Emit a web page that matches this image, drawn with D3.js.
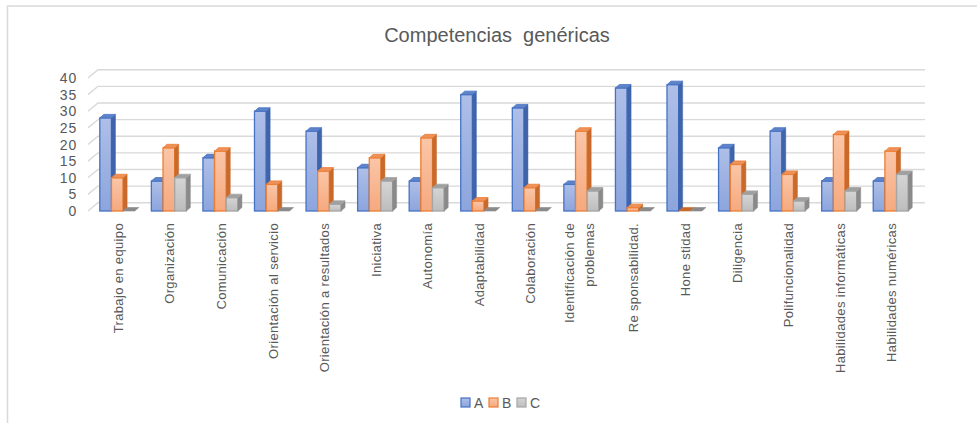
<!DOCTYPE html>
<html>
<head>
<meta charset="utf-8">
<script src="https://cdn.jsdelivr.net/npm/d3@7"></script>
<style>
  html, body { margin: 0; padding: 0; background: #fff; }
  svg { display: block; }
  text { font-family: "Liberation Sans", Arial, sans-serif; fill: #595959; }
</style>
</head>
<body>
<svg id="chart" width="977" height="423"></svg>
<script>
const title = "Competencias  genéricas";
const categories = [
  "Trabajo en equipo", "Organización", "Comunicación", "Orientación al servicio",
  "Orientación a resultados", "Iniciativa", "Autonomía", "Adaptabilidad",
  "Colaboración", "Identificación de\nproblemas", "Re sponsabilidad.", "Hone stidad",
  "Diligencia", "Polifuncionalidad", "Habilidades informáticas", "Habilidades numéricas"
];
const seriesNames = ["A", "B", "C"];
const valuesA = [28, 9, 16, 30, 24, 13, 9, 35, 31, 8, 37, 38, 19, 24, 9, 9];
const valuesB = [10, 19, 18, 8, 12, 16, 22, 3, 7, 24, 1, 0, 14, 11, 23, 18];
const valuesC = [0, 10, 4, 0, 2, 9, 7, 0, 0, 6, 0, 0, 5, 3, 6, 11];
const yTicks = [0, 5, 10, 15, 20, 25, 30, 35, 40];

const series = [valuesA, valuesB, valuesC];
const palette = [
  { light: "#aebfe8", dark: "#8ca5dd", stroke: "#4472c4", side: "#3f64ab", top: "#5f82c9" },
  { light: "#fac6a8", dark: "#f6a97e", stroke: "#ed7d31", side: "#c86a2c", top: "#ef915a" },
  { light: "#d5d5d5", dark: "#bdbdbd", stroke: "#a5a5a5", side: "#8a8a8a", top: "#a0a0a0" }
];

const svg = d3.select("#chart");
const defs = svg.append("defs");
palette.forEach((p, i) => {
  const g = defs.append("linearGradient").attr("id", "grad" + i)
    .attr("x1", 0).attr("y1", 0).attr("x2", 0).attr("y2", 1);
  g.append("stop").attr("offset", "0%").attr("stop-color", p.light);
  g.append("stop").attr("offset", "100%").attr("stop-color", p.dark);
});

// chart border (top and left visible)
svg.append("path").attr("d", "M7.5,423 L7.5,6 L977,6")
  .attr("fill", "none").attr("stroke", "#d9d9d9").attr("stroke-width", 1.5);

// title
svg.append("text").attr("x", 497).attr("y", 42).attr("text-anchor", "middle")
  .attr("font-size", 20).style("white-space", "pre").text(title);

// scales
const y = d3.scaleLinear().domain([0, 40]).range([211, 78]);
const x = d3.scaleBand().domain(categories).range([91.5, 916.5]).paddingInner(0).paddingOuter(0);
const xInner = d3.scaleBand().domain(seriesNames).range([8.3, 43.3]).padding(0);

const wallDx = 10, wallDy = 8.3;
const barDx = 4, barDy = 3.5;

// gridlines: side wall diagonal + back wall horizontal
const grid = svg.append("g");
yTicks.forEach(t => {
  const yy = y(t);
  grid.append("path")
    .attr("d", `M88,${yy} L${88 + wallDx},${yy - wallDy} L925,${yy - wallDy}`)
    .attr("fill", "none").attr("stroke", "#d9d9d9").attr("stroke-width", 1.4);
});

// y labels
svg.append("g").selectAll("text").data(yTicks).join("text")
  .attr("x", 77).attr("y", d => y(d)).attr("dy", "0.36em")
  .attr("text-anchor", "end").attr("font-size", 14).attr("letter-spacing", 0.8)
  .text(d => d);

// bars
const bars = svg.append("g");
categories.forEach((cat, ci) => {
  seriesNames.forEach((s, si) => {
    const v = series[si][ci];
    const p = palette[si];
    const x0 = x(cat) + xInner(s);
    const w = xInner.bandwidth();
    const yb = y(0), yt = y(v);
    const g = bars.append("g");
    if (v > 0) {
      g.append("rect").attr("x", x0).attr("y", yt).attr("width", w).attr("height", yb - yt)
        .attr("fill", `url(#grad${si})`).attr("stroke", p.stroke).attr("stroke-width", 1.3);
      g.append("polygon")
        .attr("points", [[x0 + w, yt], [x0 + w + barDx, yt - barDy], [x0 + w + barDx, yb - barDy], [x0 + w, yb]].join(" "))
        .attr("fill", p.side).attr("stroke", p.side).attr("stroke-width", 0.5);
      g.append("polygon")
        .attr("points", [[x0, yt], [x0 + barDx, yt - barDy], [x0 + w + barDx, yt - barDy], [x0 + w, yt]].join(" "))
        .attr("fill", p.top).attr("stroke", p.stroke).attr("stroke-width", 0.8);
    } else {
      g.append("polygon")
        .attr("points", [[x0, yb], [x0 + barDx, yb - barDy], [x0 + w + barDx, yb - barDy], [x0 + w, yb]].join(" "))
        .attr("fill", p.side).attr("stroke", p.side).attr("stroke-width", 0.6);
    }
  });
});

// x labels (rotated)
const xl = svg.append("g");
categories.forEach(cat => {
  const lines = cat.split("\n");
  const cx = x(cat) + x.bandwidth() / 2 + 1;
  const t = xl.append("text")
    .attr("transform", `translate(${cx},223) rotate(-90)`)
    .attr("text-anchor", "end").attr("font-size", 13).attr("letter-spacing", 0.35);
  const n = lines.length;
  lines.forEach((ln, li) => {
    t.append("tspan").attr("x", 0)
      .attr("y", (li - (n - 1) / 2) * 20 - (n > 1 ? 3 : 0))
      .attr("dy", "0.35em").text(ln);
  });
});

// legend
const legend = svg.append("g").attr("transform", "translate(461,398)");
seriesNames.forEach((s, i) => {
  const g = legend.append("g").attr("transform", `translate(${i * 28},0)`);
  g.append("rect").attr("x", 0).attr("y", 0).attr("width", 9).attr("height", 9)
    .attr("fill", `url(#grad${i})`).attr("stroke", palette[i].stroke).attr("stroke-width", 1.2);
  g.append("text").attr("x", 13).attr("y", 10).attr("font-size", 14).text(s);
});
</script>
</body>
</html>
